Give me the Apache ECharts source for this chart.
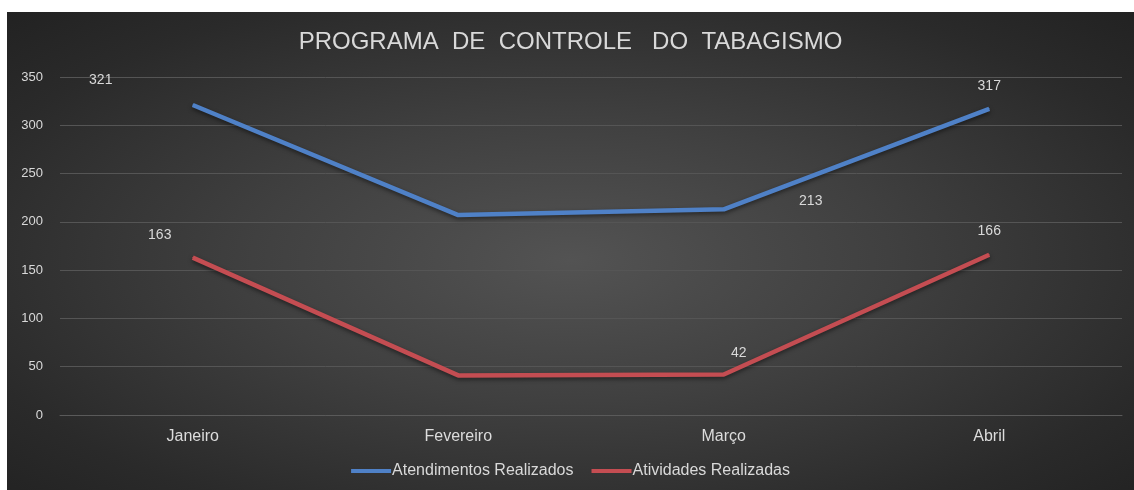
<!DOCTYPE html>
<html>
<head>
<meta charset="utf-8">
<script src="https://cdn.jsdelivr.net/npm/echarts@6/dist/echarts.min.js"></script>
<style>
  html, body { margin: 0; padding: 0; background: #fff; }
  #wrap { position: relative; width: 1134px; height: 490px; background: #fff; overflow: hidden; }
  #chart {
    position: absolute; left: 7px; top: 12px; width: 1127px; height: 478px;
    background: radial-gradient(ellipse farthest-corner at 50% 52%, #535353 0%, #404040 40%, #2a2a2a 80%, #222 100%);
  }
</style>
</head>
<body>
<div id="wrap"><div id="chart"></div></div>
<script>
const months = ['Janeiro', 'Fevereiro', 'Março', 'Abril'];
const atendimentos = [321, 207, 213, 317];
const atividades = [163, 41, 42, 166];
const yTicks = { min: 0, max: 350, interval: 50 };

// label placement as in the original (Fevereiro unlabeled)
const atendLabelOffsets = [[-92, -25], null, [87, -8], [0, -23]];
const ativLabelOffsets = [[-33, -22], null, [15, -21], [0, -24]];

function toData(values, offsets) {
  return values.map((v, i) => ({
    value: v,
    label: offsets[i]
      ? { show: true, position: 'inside', offset: offsets[i] }
      : { show: false }
  }));
}

const font = 'Liberation Sans, Arial, sans-serif';
const labelText = { color: '#d9d9d9', fontSize: 14, fontFamily: font };

const chart = echarts.init(document.getElementById('chart'), null, { renderer: 'canvas' });
chart.setOption({
  backgroundColor: 'transparent',
  animation: false,
  title: {
    text: 'PROGRAMA  DE  CONTROLE   DO  TABAGISMO',
    left: 'center',
    top: 13,
    textStyle: { color: '#d9d9d9', fontSize: 24, fontWeight: 'normal', fontFamily: font }
  },
  grid: { left: 53, right: 12, top: 65, bottom: 75 },
  legend: {
    bottom: 6,
    left: 'center',
    icon: 'rect',
    itemWidth: 40,
    itemHeight: 4,
    itemGap: 18,
    textStyle: { color: '#d9d9d9', fontSize: 16, fontFamily: font, padding: [0, 0, 0, -4] },
    data: ['Atendimentos Realizados', 'Atividades Realizadas']
  },
  xAxis: {
    type: 'category',
    data: months,
    axisLine: { lineStyle: { color: '#5a5a5a' } },
    axisTick: { show: false },
    axisLabel: { color: '#dcdcdc', fontSize: 16, margin: 14, fontFamily: font }
  },
  yAxis: {
    type: 'value',
    min: yTicks.min,
    max: yTicks.max,
    interval: yTicks.interval,
    axisLine: { show: false },
    axisTick: { show: false },
    axisLabel: { color: '#d9d9d9', fontSize: 13, margin: 17, fontFamily: font },
    splitLine: { lineStyle: { color: '#555555', width: 1 } }
  },
  series: [
    {
      name: 'Atendimentos Realizados',
      type: 'line',
      data: toData(atendimentos, atendLabelOffsets),
      symbol: 'circle',
      symbolSize: 1,
      lineStyle: { color: '#4f81c7', width: 4.5, shadowColor: 'rgba(0,0,0,0.5)', shadowBlur: 4, shadowOffsetY: 2 },
      itemStyle: { color: '#4f81c7' },
      label: labelText
    },
    {
      name: 'Atividades Realizadas',
      type: 'line',
      data: toData(atividades, ativLabelOffsets),
      symbol: 'circle',
      symbolSize: 1,
      lineStyle: { color: '#c44d52', width: 4.5, shadowColor: 'rgba(0,0,0,0.5)', shadowBlur: 4, shadowOffsetY: 2 },
      itemStyle: { color: '#c44d52' },
      label: labelText
    }
  ]
});
</script>
</body>
</html>
